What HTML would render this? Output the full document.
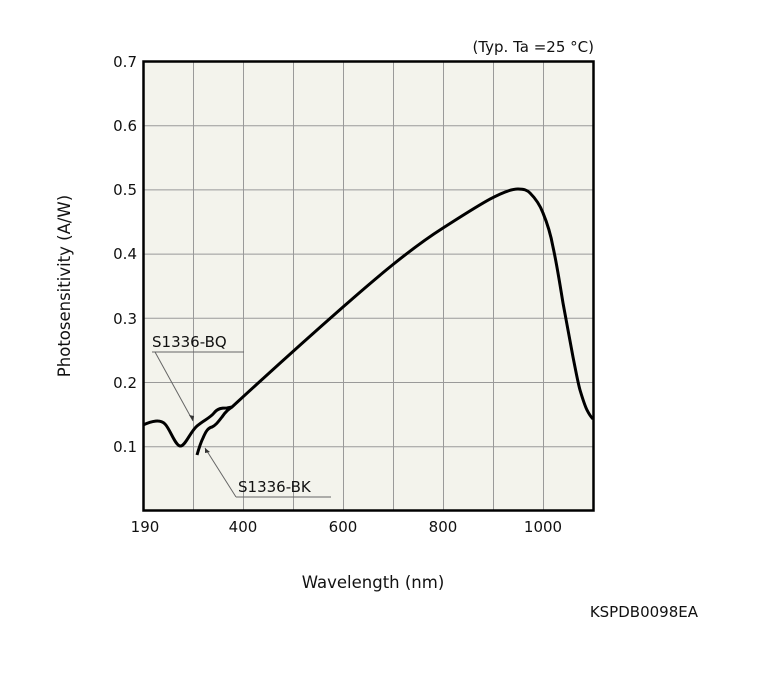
<!DOCTYPE html><html><head><style>body{margin:0;background:#fff}svg{display:block}text{font-family:"DejaVu Sans","Liberation Sans",sans-serif;font-size:15px;fill:#111}</style></head><body>
<svg width="763" height="684" viewBox="0 0 763 684">
<rect x="143.5" y="61.5" width="450" height="449" fill="#f3f3ec"/>
<g stroke="#999" stroke-width="1">
<path d="M193.5 61V511M243.5 61V511M293.5 61V511M343.5 61V511M393.5 61V511M443.5 61V511M493.5 61V511M543.5 61V511"/>
<path d="M143 125.7H594M143 189.9H594M143 254.1H594M143 318.3H594M143 382.5H594M143 446.7H594"/>
</g>
<rect x="143.5" y="61.5" width="450" height="449" fill="none" stroke="#000" stroke-width="2.5"/>
<g text-anchor="end"><text x="137" y="67">0.7</text><text x="137" y="131">0.6</text><text x="137" y="195">0.5</text><text x="137" y="259">0.4</text><text x="137" y="324">0.3</text><text x="137" y="388">0.2</text><text x="137" y="452">0.1</text></g>
<g text-anchor="middle"><text x="145" y="532">190</text><text x="243" y="532">400</text><text x="343" y="532">600</text><text x="443" y="532">800</text><text x="543" y="532">1000</text>
<text x="373" y="588" style="font-size:16.5px">Wavelength (nm)</text></g>
<text transform="translate(70,286) rotate(-90)" text-anchor="middle" style="font-size:16.5px">Photosensitivity (A/W)</text>
<text x="594" y="52" text-anchor="end">(Typ. Ta =25 °C)</text>
<text x="698" y="617" text-anchor="end">KSPDB0098EA</text>
<text x="152" y="347">S1336-BQ</text>
<text x="238" y="492">S1336-BK</text>
<g stroke="#666" stroke-width="1" fill="none"><path d="M152 352H244M155 352L193 421"/><path d="M236 497H331M236 497L205 448"/></g>
<path d="M193 421l-4-6 5 1z M205 448l5 4-5 1z" fill="#333"/>
<g fill="none" stroke="#000" stroke-width="3" stroke-linejoin="round">
<path d="M143 425C152 421 160 419 165 424S175 445 180 446S190 432 197 426S210 418 214 413S222 408 227 408L232 407C270 372 310 336 343 307S410 249 443 228S503 189 518 189C524 189 527 190 530 193C536 199 540 205 543 213C548 225 551 236 553 247C557 265 560 285 563 303C566 320 570 340 573 357C576 372 578 383 580 390C583 400 585 406 587 410C589 414 591 417 593 419"/>
<path d="M197 455C199 448 201 442 203 438C206 431 208 428 212 427C216 425 218 422 222 417C226 411 229 409 232 407"/>
</g>
</svg></body></html>
